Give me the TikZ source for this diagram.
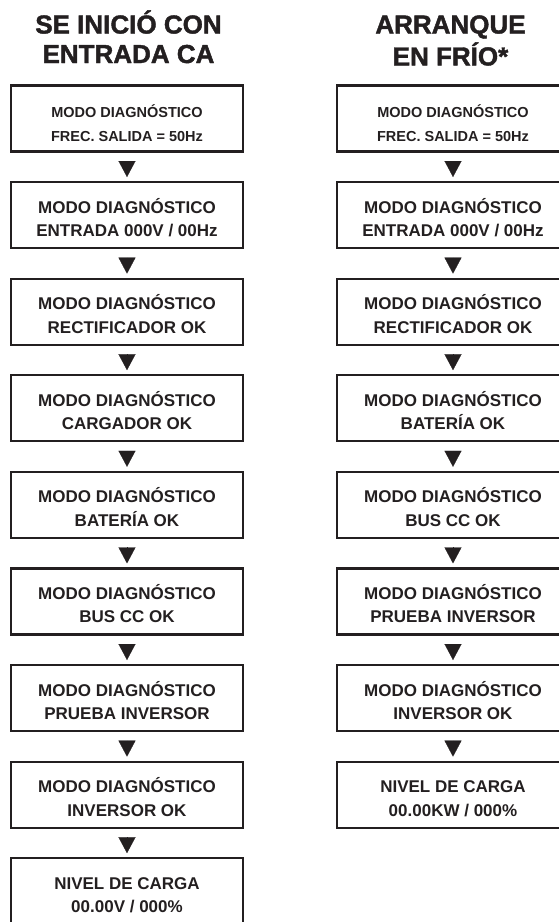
\documentclass[tikz,border=0pt]{standalone}
\usepackage{fontspec}
\setmainfont{Liberation Sans}
\newfontfamily\headfont{Liberation Sans}[BoldFeatures={FakeBold=1.6}]
\usetikzlibrary{arrows.meta}
\definecolor{ink}{HTML}{231F20}
\newcommand{\twoline}[3][5]{\raisebox{-#1pt}[\height][\depth]{\begin{tabular}{@{}c@{}}#2\\#3\end{tabular}}}
\begin{document}
\begin{tikzpicture}[x=1pt,y=-1pt,
  box/.style={draw=ink, line width=2.2pt, minimum width=232pt, minimum height=66pt, inner sep=0pt, text=ink, font=\fontsize{17}{23.5}\selectfont\bfseries},
  small/.style={font=\fontsize{14.5}{23.5}\selectfont\bfseries},
  head/.style={anchor=base, inner sep=0pt, text=ink, font=\headfont\fontsize{26}{29.5}\selectfont\bfseries},
  flow/.style={-{Triangle[length=16pt,width=17pt]}, draw=ink, fill=ink, line width=0.2pt, shorten <=10pt, shorten >=4pt}]
\useasboundingbox (0,0) rectangle (559,922);
\clip (0,0) rectangle (559,922);
% left column
\node[box,small] (L1) at (127,118.5) {\twoline[6.5]{MODO DIAGNÓSTICO}{FREC. SALIDA = 50Hz}};
\node[box] (L2) at (127,215.1) {\twoline{MODO DIAGNÓSTICO}{ENTRADA 000V / 00Hz}};
\node[box] (L3) at (127,311.7) {\twoline{MODO DIAGNÓSTICO}{RECTIFICADOR OK}};
\node[box] (L4) at (127,408.3) {\twoline{MODO DIAGNÓSTICO}{CARGADOR OK}};
\node[box] (L5) at (127,504.9) {\twoline{MODO DIAGNÓSTICO}{BATERÍA OK}};
\node[box] (L6) at (127,601.5) {\twoline{MODO DIAGNÓSTICO}{BUS CC OK}};
\node[box] (L7) at (127,698.1) {\twoline{MODO DIAGNÓSTICO}{PRUEBA INVERSOR}};
\node[box] (L8) at (127,794.7) {\twoline{MODO DIAGNÓSTICO}{INVERSOR OK}};
\node[box] (L9) at (127,891.3) {\twoline{NIVEL DE CARGA}{00.00V / 000\%}};
% right column
\node[box,small] (R1) at (453,118.5) {\twoline[6.5]{MODO DIAGNÓSTICO}{FREC. SALIDA = 50Hz}};
\node[box] (R2) at (453,215.1) {\twoline{MODO DIAGNÓSTICO}{ENTRADA 000V / 00Hz}};
\node[box] (R3) at (453,311.7) {\twoline{MODO DIAGNÓSTICO}{RECTIFICADOR OK}};
\node[box] (R4) at (453,408.3) {\twoline{MODO DIAGNÓSTICO}{BATERÍA OK}};
\node[box] (R5) at (453,504.9) {\twoline{MODO DIAGNÓSTICO}{BUS CC OK}};
\node[box] (R6) at (453,601.5) {\twoline{MODO DIAGNÓSTICO}{PRUEBA INVERSOR}};
\node[box] (R7) at (453,698.1) {\twoline{MODO DIAGNÓSTICO}{INVERSOR OK}};
\node[box] (R8) at (453,794.7) {\twoline{NIVEL DE CARGA}{00.00KW / 000\%}};
% connectors
\foreach \i [evaluate=\i as \j using int(\i+1)] in {1,...,8}
  \draw[flow] (L\i.south) -- (L\j.north);
\foreach \i [evaluate=\i as \j using int(\i+1)] in {1,...,7}
  \draw[flow] (R\i.south) -- (R\j.north);
% headings
\node[head] (hL) at (128.5,33.5) {\begin{tabular}[t]{@{}c@{}}SE INICIÓ CON\\ENTRADA CA\end{tabular}};
\node[head] (hR) at (450.5,33.5) {\begin{tabular}[t]{@{}c@{}}ARRANQUE\\EN FRÍO*\end{tabular}};
\end{tikzpicture}
\end{document}
